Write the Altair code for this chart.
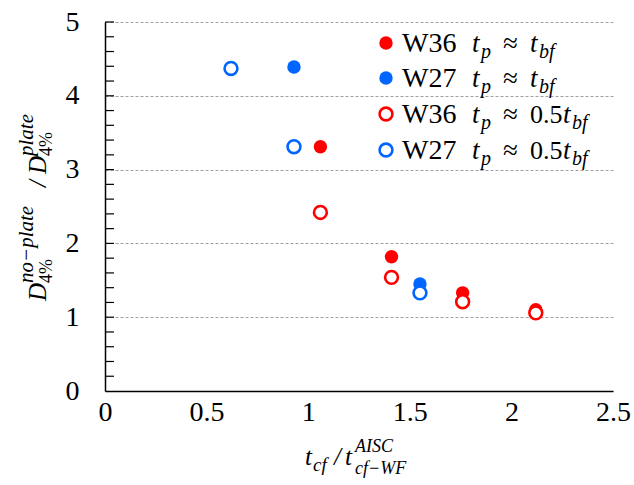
import altair as alt
import pandas as pd

# Column-flange thickness ratio vs. drift ratio (no plate / with plate)
w36_full_x = [1.06, 1.41, 1.76, 2.12]
w36_full_y = [3.31, 1.82, 1.33, 1.10]
w27_full_x = [0.93, 1.55]
w27_full_y = [4.39, 1.45]
w36_half_x = [1.06, 1.41, 1.76, 2.12]
w36_half_y = [2.42, 1.54, 1.21, 1.06]
w27_half_x = [0.62, 0.93, 1.55]
w27_half_y = [4.37, 3.31, 1.33]

x_ticks = [0, 0.5, 1, 1.5, 2, 2.5]
y_ticks = [0, 1, 2, 3, 4, 5]
y_minor = [0.2, 0.4, 0.6, 0.8, 1.0, 1.2, 1.4, 1.6, 1.8, 2.0, 2.2, 2.4, 2.6,
           2.8, 3.0, 3.2, 3.4, 3.6, 3.8, 4.0, 4.2, 4.4, 4.6, 4.8, 5.0]

sections = ["W36", "W27"]
RED = "#ff0000"
BLUE = "#0066ff"

SERIF = "Liberation Serif"
LEFT, TOP = 105, 22
W, H = 508, 369


def rows(xs, ys, section):
    return [{"x": a, "y": b, "section": section} for a, b in zip(xs, ys)]


full = pd.DataFrame(rows(w36_full_x, w36_full_y, "W36") + rows(w27_full_x, w27_full_y, "W27"))
half = pd.DataFrame(rows(w36_half_x, w36_half_y, "W36") + rows(w27_half_x, w27_half_y, "W27"))
minor = pd.DataFrame({"v": y_minor})

xs = alt.Scale(domain=[0, 2.5], nice=False, zero=False)
ys = alt.Scale(domain=[0, 5], nice=False, zero=False)
cs = alt.Scale(domain=sections, range=[RED, BLUE])

x_axis = alt.Axis(values=x_ticks, format="~g", title=None, grid=False, ticks=False,
                  domainColor="black", domainWidth=1.5, labelFont=SERIF, labelFontSize=28,
                  labelColor="black", labelPadding=7, labelFlush=False)
y_axis = alt.Axis(values=y_ticks, format="~g", title=None, grid=True, gridDash=[3, 2],
                  gridColor="#a0a0a0", gridWidth=1, ticks=False, domainColor="black",
                  domainWidth=1.5, labelFont=SERIF, labelFontSize=28, labelColor="black",
                  labelPadding=26, labelFlush=False)

# inward minor ticks on the y axis
tick_layer = alt.Chart(minor).mark_rule(color="black", strokeWidth=1.2).encode(
    y=alt.Y("v:Q", scale=ys, axis=y_axis),
    x=alt.value(0), x2=alt.value(9),
)

filled_layer = alt.Chart(full).mark_circle(size=180, opacity=1).encode(
    x=alt.X("x:Q", scale=xs, axis=x_axis),
    y=alt.Y("y:Q", scale=ys, axis=y_axis),
    color=alt.Color("section:N", scale=cs, legend=None),
)

open_layer = alt.Chart(half).mark_point(shape="circle", size=165, strokeWidth=2.6,
                                        fill="white", fillOpacity=1, opacity=1).encode(
    x=alt.X("x:Q", scale=xs, axis=x_axis),
    y=alt.Y("y:Q", scale=ys, axis=y_axis),
    stroke=alt.Stroke("section:N", scale=cs, legend=None),
)


def piece(text, x, y, size, italic=False, angle=0, font=SERIF):
    """A run of text placed by page coordinates (left/baseline anchor)."""
    props = dict(align="left", baseline="alphabetic", font=font, fontSize=size,
                 color="black")
    if italic:
        props["fontStyle"] = "italic"
    if angle:
        props["angle"] = angle
    return alt.Chart(alt.Data(values=[{"s": text}])).mark_text(**props).encode(
        x=alt.value(x - LEFT), y=alt.value(y - TOP), text="s:N")


def dot(y, color, filled):
    data = alt.Data(values=[{"k": 1}])
    if filled:
        mark = alt.Chart(data).mark_circle(size=180, color=color, opacity=1)
    else:
        mark = alt.Chart(data).mark_point(shape="circle", size=165, strokeWidth=2.6,
                                          stroke=color, fill="white", fillOpacity=1,
                                          opacity=1)
    return mark.encode(x=alt.value(386 - LEFT), y=alt.value(y - TOP))


# legend: section name, plate thickness relation
legend_names = ["W36", "W27", "W36", "W27"]
legend_colors = [RED, BLUE, RED, BLUE]
legend_filled = [True, True, False, False]
legend_factor = ["", "", "0.5", "0.5"]
legend_dot_y = [43, 78, 114, 150]
legend_base_y = [52, 87, 123, 159]

legend_layers = []
for name, col, fil, fac, dy, by in zip(legend_names, legend_colors, legend_filled,
                                        legend_factor, legend_dot_y, legend_base_y):
    legend_layers.append(dot(dy, col, fil))
    legend_layers.append(piece(name, 402, by, 28))
    legend_layers.append(piece("t", 472, by, 27, True))
    legend_layers.append(piece("p", 481, by + 6, 20, True))
    legend_layers.append(piece("\u2248", 503, by, 27))
    tx = 530
    if fac:
        legend_layers.append(piece(fac, 530, by, 26))
        tx = 563
    legend_layers.append(piece("t", tx, by, 27, True))
    legend_layers.append(piece("bf", tx + 9, by + 6, 20, True))

# x-axis title: t_cf / t_cf-WF^AISC
x_title = [
    piece("t", 305, 465, 25, True),
    piece("cf", 313, 471, 19, True),
    piece("/", 334, 465, 25, True),
    piece("t", 345, 465, 25, True),
    piece("AISC", 355, 452, 18, True),
    piece("cf\u2212WF", 355, 474, 18, True),
]

# y-axis title: D_4%^no-plate / D_4%^plate (rotated)
y_title = [
    piece("D", 46, 301, 25, True, 270),
    piece("no\u2212plate", 33, 283, 21, True, 270),
    piece("4%", 52, 283, 18, False, 270),
    piece("/", 46, 187, 25, True, 270),
    piece("D", 46, 174, 25, True, 270),
    piece("plate", 33, 156, 21, True, 270),
    piece("4%", 52, 156, 18, False, 270),
]

chart = alt.layer(
    tick_layer, filled_layer, open_layer, *legend_layers, *x_title, *y_title
).properties(
    width=W, height=H,
    autosize=alt.AutoSizeParams(type="none"),
    padding={"left": LEFT, "top": TOP, "right": 634 - LEFT - W, "bottom": 485 - TOP - H},
).configure_view(stroke=None)

chart.save("out.html", embed_options={"renderer": "svg", "actions": False})
